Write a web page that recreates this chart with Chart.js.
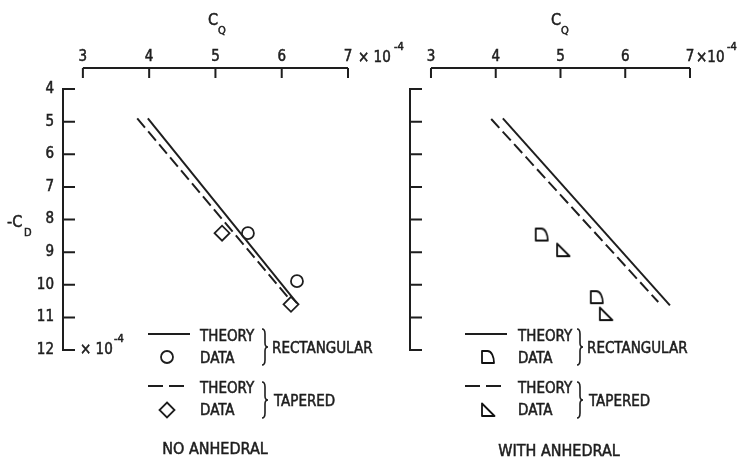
<!DOCTYPE html>
<html><head><meta charset="utf-8">
<script src="https://cdn.jsdelivr.net/npm/chart.js@4.4.1/dist/chart.umd.min.js"></script>
<style>
html,body{margin:0;padding:0;background:#fff}
#wrap{position:relative;width:746px;height:459px;overflow:hidden}
canvas{position:absolute;top:0}
#left{left:0}
#right{left:373px}
</style></head><body>
<div id="wrap">
<canvas id="left" width="420" height="459"></canvas>
<canvas id="right" width="373" height="459"></canvas>
</div>
<script>
/* Rolling moment C_Q vs -C_D, rectangular and tapered wings */

var cqTicks=[3,4,5,6,7];
var cdTicks=[4,5,6,7,8,9,10,11,12];

// no anhedral
var noRectTheoryCq=[3.98,6.23], noRectTheoryCd=[4.9,10.56];
var noTapTheoryCq=[3.82,6.11],  noTapTheoryCd=[4.9,10.42];
var noRectDataCq=[5.49,6.23],   noRectDataCd=[8.42,9.89];
var noTapDataCq=[5.10,6.14],    noTapDataCd=[8.42,10.6];

// with anhedral
var anRectTheoryCq=[4.11,6.69], anRectTheoryCd=[4.9,10.63];
var anTapTheoryCq=[3.93,6.51],  anTapTheoryCd=[4.92,10.53];
var anRectDataCq=[4.71,5.56],   anRectDataCd=[8.46,10.38];
var anTapDataCq=[5.04,5.70],    anTapDataCd=[8.94,10.9];

var INK='#1e1e1e';
var FONT="'DejaVu Sans Condensed','DejaVu Sans',sans-serif";

function zip(xs,ys){return xs.map(function(x,i){return{x:x,y:ys[i]}})}

function makeSym(kind){
  var c=document.createElement('canvas');c.width=16;c.height=16;
  var g=c.getContext('2d');g.strokeStyle='#111';g.lineWidth=1.8;g.lineJoin='round';
  g.beginPath();
  if(kind==='quad'){
    g.moveTo(2,2);g.lineTo(7.5,2);g.bezierCurveTo(11.5,2,14,7.5,14,14);
    g.lineTo(2,14);g.closePath();
  }else{
    g.moveTo(2,1.5);g.lineTo(2,14);g.lineTo(14.5,14);g.closePath();
  }
  g.stroke();return c;
}
var quadSym=makeSym('quad'),triSym=makeSym('tri');

// typed lettering is heavy, so a thin stroke is laid over the fill
function txt(ctx,s,x,y,size,align){
  ctx.font=size+'px '+FONT;ctx.textAlign=align||'left';ctx.textBaseline='alphabetic';
  ctx.fillStyle=INK;ctx.fillText(s,x,y);
  ctx.lineWidth=0.5;ctx.strokeStyle=INK;ctx.strokeText(s,x,y);
}

function brace(ctx,x,y1,y2){
  var m=(y1+y2)/2,w=6,h=w/2;
  ctx.beginPath();
  ctx.moveTo(x,y1);
  ctx.quadraticCurveTo(x+h,y1,x+h,y1+5);
  ctx.lineTo(x+h,m-4);
  ctx.quadraticCurveTo(x+h,m,x+w,m);
  ctx.quadraticCurveTo(x+h,m,x+h,m+4);
  ctx.lineTo(x+h,y2-5);
  ctx.quadraticCurveTo(x+h,y2,x,y2);
  ctx.stroke();
}

function drawLegend(ctx,lx,tx,bx,symA,symB,sx){
  ctx.strokeStyle=INK;ctx.lineWidth=2;
  ctx.beginPath();ctx.moveTo(lx,334);ctx.lineTo(lx+42,334);ctx.stroke();
  ctx.setLineDash([15,6]);
  ctx.beginPath();ctx.moveTo(lx,386);ctx.lineTo(lx+42,386);ctx.stroke();
  ctx.setLineDash([]);
  txt(ctx,'THEORY',tx,341,15);txt(ctx,'DATA',tx,363,15);
  txt(ctx,'THEORY',tx,393,15);txt(ctx,'DATA',tx,415,15);
  ctx.lineWidth=1.6;
  brace(ctx,bx,329,365);brace(ctx,bx,382,418);
  txt(ctx,'RECTANGULAR',bx+10,353,15);txt(ctx,'TAPERED',bx+12,406,15);
  symA(ctx,sx,357);symB(ctx,sx,410);
}

function circSym(ctx,x,y){ctx.lineWidth=1.8;ctx.beginPath();ctx.arc(x,y,6,0,Math.PI*2);ctx.stroke()}
function diaSym(ctx,x,y){ctx.lineWidth=1.8;ctx.beginPath();ctx.moveTo(x,y-7.5);ctx.lineTo(x+7.5,y);ctx.lineTo(x,y+7.5);ctx.lineTo(x-7.5,y);ctx.closePath();ctx.stroke()}
function quadLeg(ctx,x,y){ctx.drawImage(quadSym,x-8,y-8)}
function triLeg(ctx,x,y){ctx.drawImage(triSym,x-8,y-8)}

function axesPlugin(notes){
  return {id:'axes',afterDraw:function(chart){
    var ctx=chart.ctx,xs=chart.scales.x,ys=chart.scales.y,a=chart.chartArea;
    ctx.save();ctx.strokeStyle=INK;ctx.lineWidth=2;ctx.lineCap='butt';
    ctx.beginPath();
    ctx.moveTo(xs.getPixelForValue(cqTicks[0]),a.top);
    ctx.lineTo(xs.getPixelForValue(cqTicks[cqTicks.length-1]),a.top);
    cqTicks.forEach(function(v){var p=xs.getPixelForValue(v);ctx.moveTo(p,a.top);ctx.lineTo(p,a.top+10)});
    ctx.moveTo(a.left,ys.getPixelForValue(cdTicks[0]));
    ctx.lineTo(a.left,ys.getPixelForValue(cdTicks[cdTicks.length-1]));
    cdTicks.forEach(function(v){var p=ys.getPixelForValue(v);ctx.moveTo(a.left-1,p);ctx.lineTo(a.left+12,p)});
    ctx.stroke();
    notes(ctx);
    ctx.restore();
  }};
}

function buildPanel(id,o){
  var ctx=document.getElementById(id).getContext('2d');
  var tickStyle={autoSkip:false,color:INK,font:{family:FONT,size:15},textStrokeColor:INK,textStrokeWidth:0.5};
  return new Chart(ctx,{
    type:'scatter',
    data:{datasets:[
      {data:zip(o.rtCq,o.rtCd),showLine:true,borderColor:INK,borderWidth:2,pointRadius:0},
      {data:zip(o.ttCq,o.ttCd),showLine:true,borderColor:INK,borderWidth:2,borderDash:[12,5],pointRadius:0},
      {data:zip(o.rdCq,o.rdCd),pointStyle:o.rdStyle,pointRadius:o.rdRadius,borderColor:INK,borderWidth:1.8,backgroundColor:'rgba(0,0,0,0)'},
      {data:zip(o.tdCq,o.tdCd),pointStyle:o.tdStyle,pointRadius:o.tdRadius,borderColor:INK,borderWidth:1.8,backgroundColor:'rgba(0,0,0,0)'}
    ]},
    options:{
      responsive:false,
      animation:false,
      events:[],
      layout:{padding:{left:0,top:0,right:o.padRight,bottom:109}},
      plugins:{legend:{display:false},tooltip:{enabled:false}},
      scales:{
        x:{
          type:'linear',position:'top',min:o.xMin,max:7,
          afterBuildTicks:function(s){s.ticks=cqTicks.map(function(v){return{value:v}})},
          afterFit:function(s){s.height=68},
          ticks:Object.assign({padding:2,maxRotation:0},tickStyle),
          grid:{display:false,drawTicks:false},
          border:{display:false}
        },
        y:{
          type:'linear',reverse:true,min:3.356,max:12,
          afterBuildTicks:function(s){s.ticks=cdTicks.map(function(v){return{value:v}})},
          afterFit:function(s){s.width=o.yWidth},
          ticks:Object.assign({display:o.yLabels,padding:9},tickStyle),
          grid:{display:false,drawTicks:false},
          border:{display:false}
        }
      }
    },
    plugins:[axesPlugin(o.notes)]
  });
}

buildPanel('left',{
  rtCq:noRectTheoryCq,rtCd:noRectTheoryCd,ttCq:noTapTheoryCq,ttCd:noTapTheoryCd,
  rdCq:noRectDataCq,rdCd:noRectDataCd,rdStyle:'circle',rdRadius:6,
  tdCq:noTapDataCq,tdCd:noTapDataCd,tdStyle:'rectRot',tdRadius:7.5,
  xMin:2.7,padRight:72,yWidth:63,yLabels:true,
  notes:function(ctx){
    txt(ctx,'C',208,25,16);txt(ctx,'Q',218,34,11);
    txt(ctx,'\u00d7 10',358,62,15);txt(ctx,'-4',394,50,11);
    txt(ctx,'-C',7,227,16);txt(ctx,'D',24,236,11);
    txt(ctx,'\u00d7 10',80,354,15);txt(ctx,'-4',114,342,11);
    drawLegend(ctx,148,200,262,circSym,diaSym,167);
    txt(ctx,'NO ANHEDRAL',215,454,16,'center');
  }
});

buildPanel('right',{
  rtCq:anRectTheoryCq,rtCd:anRectTheoryCd,ttCq:anTapTheoryCq,ttCd:anTapTheoryCd,
  rdCq:anRectDataCq,rdCd:anRectDataCd,rdStyle:quadSym,rdRadius:8,
  tdCq:anTapDataCq,tdCd:anTapDataCd,tdStyle:triSym,tdRadius:8,
  xMin:2.676,padRight:56,yWidth:37,yLabels:false,
  notes:function(ctx){
    txt(ctx,'C',178,25,16);txt(ctx,'Q',188,34,11);
    txt(ctx,'\u00d710',323,62,15);txt(ctx,'-4',354,50,11);
    drawLegend(ctx,92,145,204,quadLeg,triLeg,115);
    txt(ctx,'WITH ANHEDRAL',186,456,16,'center');
  }
});
</script>
</body></html>
